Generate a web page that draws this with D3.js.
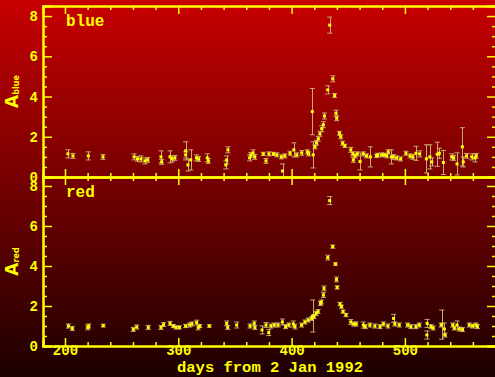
<!DOCTYPE html>
<html>
<head>
<meta charset="utf-8">
<script src="https://cdn.jsdelivr.net/npm/d3@7"></script>
<style>
  body { margin: 0; background: #000; }
  svg { display: block; }
</style>
</head>
<body>
<div id="chart"></div>
<script>
// blue panel: day, amplification, error
const blueDays = [202.6, 207, 220.6, 233.5, 261, 264, 267, 270.6, 273, 284.7, 285.3, 292.7, 294.6, 297,
  306.5, 306.5, 308.5, 311, 316, 318, 325.6, 326.5, 342, 342.7, 343.8, 363, 364, 366, 367.5, 375, 377.4,
  380, 384, 387, 391, 392, 394, 398.6, 402, 404.5, 408.9, 413.9, 415, 418.3, 419, 420.6, 422, 423.6, 425,
  426.6, 428, 429, 431.9, 433.6, 436.3, 438, 439.2, 439.8, 442.2, 443.4, 445, 447, 452.2, 454, 454.5, 456,
  458, 460.4, 463.3, 466.2, 469.5, 475, 476, 479.5, 482, 484, 485.3, 488, 489.7, 492.7, 496.2, 500.9, 504.5,
  507, 509.8, 513, 519, 522, 523.6, 528.6, 530.4, 534, 541.3, 543, 546, 550.7, 551.5, 554.4, 559, 561.8, 563];
const blueA = [1.15, 1.05, 1.05, 1.0, 1.0, 0.9, 0.9, 0.8, 0.85, 1.0, 0.75, 1.0, 0.9, 0.95,
  1.3, 1.1, 0.6, 0.85, 0.95, 0.9, 0.95, 0.8, 0.6, 0.85, 1.35, 0.95, 1.1, 1.2, 1.0, 1.15, 0.8,
  1.15, 1.15, 1.1, 1.0, 0.3, 1.05, 1.18, 1.35, 1.1, 1.2, 1.25, 1.15, 3.25, 1.1, 1.5, 1.7, 1.9, 2.15,
  2.4, 2.6, 3.03, 4.33, 7.55, 4.88, 4.05, 3.17, 2.92, 2.17, 2.0, 1.68, 1.55, 1.35, 1.15, 0.85, 1.05,
  1.15, 0.77, 1.15, 1.05, 1.0, 1.05, 1.1, 1.1, 1.1, 1.05, 1.25, 1.0, 1.0, 0.95, 0.9, 1.18, 1.05,
  1.0, 1.18, 1.15, 0.9, 1.0, 0.75, 1.13, 1.18, 0.72, 1.0, 0.95, 0.65, 1.5, 0.75, 1.05, 1.0, 0.95, 1.05];
const blueErr = [0.2, 0.12, 0.2, 0.12, 0.15, 0.12, 0.15, 0.15, 0.12, 0.3, 0.12, 0.3, 0.15, 0.12,
  0.45, 0.15, 0.3, 0.5, 0.15, 0.12, 0.2, 0.12, 0.2, 0.2, 0.15, 0.15, 0.12, 0.15, 0.12, 0.08, 0.12,
  0.1, 0.08, 0.1, 0.1, 0.35, 0.1, 0.1, 0.35, 0.1, 0.12, 0.1, 0.1, 1.15, 0.65, 0.1, 0.12, 0.12, 0.12,
  0.15, 0.15, 0.15, 0.2, 0.4, 0.15, 0.1, 0.15, 0.12, 0.1, 0.1, 0.1, 0.08, 0.12, 0.1, 0.12, 0.1,
  0.1, 0.42, 0.1, 0.1, 0.5, 0.08, 0.08, 0.1, 0.08, 0.1, 0.1, 0.35, 0.12, 0.1, 0.1, 0.1, 0.1,
  0.12, 0.35, 0.15, 0.7, 0.6, 0.2, 0.6, 0.25, 0.6, 0.15, 0.12, 0.55, 0.95, 0.25, 0.12, 0.15, 0.2, 0.12];

// red panel
const redDays = [203, 206.5, 220, 221, 233.8, 260.3, 263.3, 273.5, 284.7, 287, 292.7, 295.6, 298, 301,
  306.5, 310, 312, 316.2, 317.6, 319, 327.4, 342.7, 343.6, 351.5, 363.3, 367, 367.6, 373.9, 377.4, 379.8,
  381.7, 384.7, 388, 391.9, 394.7, 397.6, 401.5, 403, 408.8, 411.8, 414.7, 417.7, 418.6, 419.8, 421.6,
  423.4, 425.5, 426.3, 428.1, 428.6, 431.9, 433.6, 436.3, 438.7, 439.6, 440.2, 442.7, 444, 445.4, 448,
  452.2, 454.7, 457, 463.3, 465, 469.1, 473.5, 478, 481, 485, 490, 491.1, 495, 502.4, 505.3, 509.7,
  512.7, 519.6, 519.4, 523, 525, 532, 532.5, 534.8, 535.4, 542.2, 543.6, 546, 548, 550.9, 556.8, 559.7,
  562.6, 564];
const redA = [1.0, 0.88, 0.93, 1.0, 1.02, 0.83, 0.95, 0.93, 0.93, 1.07, 1.13, 1.0, 0.93, 0.93,
  1.0, 1.05, 1.1, 1.17, 0.93, 1.0, 1.0, 1.13, 0.93, 1.05, 1.0, 1.13, 0.93, 0.8, 1.05, 0.67,
  1.0, 1.05, 1.05, 1.2, 0.97, 1.05, 1.1, 0.97, 1.05, 1.2, 1.3, 1.38, 1.5, 1.47, 1.63,
  1.72, 2.13, 2.2, 2.55, 2.88, 4.42, 7.27, 4.97, 4.1, 3.33, 2.93, 2.1, 1.97, 1.72, 1.55,
  1.2, 1.1, 1.1, 1.05, 0.97, 1.05, 1.0, 0.97, 1.1, 1.0, 1.38, 1.1, 1.05, 1.05, 0.97, 0.97,
  1.05, 1.13, 0.55, 0.97, 0.9, 1.05, 1.07, 0.85, 0.55, 1.05, 0.9, 1.05, 0.85, 0.82, 1.05, 1.0,
  1.05, 0.97];
const redErr = [0.1, 0.1, 0.12, 0.1, 0.07, 0.1, 0.1, 0.1, 0.1, 0.1, 0.1, 0.08, 0.08, 0.08,
  0.08, 0.1, 0.1, 0.12, 0.12, 0.08, 0.06, 0.12, 0.1, 0.15, 0.1, 0.12, 0.1, 0.2, 0.12, 0.15,
  0.1, 0.1, 0.1, 0.15, 0.1, 0.1, 0.15, 0.12, 0.1, 0.1, 0.1, 0.1, 0.8, 0.1, 0.1,
  0.1, 0.1, 0.1, 0.12, 0.12, 0.12, 0.2, 0.08, 0.06, 0.12, 0.08, 0.08, 0.08, 0.08, 0.08,
  0.12, 0.1, 0.1, 0.15, 0.1, 0.1, 0.1, 0.1, 0.1, 0.1, 0.2, 0.1, 0.1, 0.1, 0.1, 0.1,
  0.1, 0.2, 0.2, 0.1, 0.1, 0.1, 0.73, 0.3, 0.1, 0.1, 0.1, 0.2, 0.1, 0.1, 0.1, 0.1,
  0.1, 0.1];

const xMajor = [200, 300, 400, 500];
const yMajor = [0, 2, 4, 6, 8];

const width = 495, height = 377;
const left = 43, right = 496;
const yellow = '#ffff00', tan = '#c8aa6e';
const mono = '"Liberation Mono", monospace';

const svg = d3.select('#chart').append('svg')
  .attr('width', width).attr('height', height);

const grad = svg.append('defs').append('linearGradient')
  .attr('id', 'bg').attr('x1', 0).attr('y1', 0).attr('x2', 0).attr('y2', 1);
grad.append('stop').attr('offset', '0%').attr('stop-color', '#c80000');
grad.append('stop').attr('offset', '100%').attr('stop-color', '#1c0000');
svg.append('rect').attr('width', width).attr('height', height).attr('fill', 'url(#bg)');

const x = d3.scaleLinear().domain([180.6, 580.4]).range([left, right]);
const xMinor = d3.range(200, 580, 20).filter(d => d % 100 !== 0);

const panels = [
  {name: 'blue', days: blueDays, vals: blueA, errs: blueErr, top: 6, bottom: 177, ymax: 8.5},
  {name: 'red', days: redDays, vals: redA, errs: redErr, top: 177, bottom: 346, ymax: 8.45}
];

panels.forEach((p, i) => {
  const y = d3.scaleLinear().domain([0, p.ymax]).range([p.bottom, p.top]);
  const yMinor = d3.range(0.5, p.ymax, 0.5).filter(d => d % 2 !== 0);
  const g = svg.append('g');

  svg.select('defs').append('clipPath').attr('id', 'clip' + i)
    .append('rect').attr('x', left).attr('y', p.top)
    .attr('width', right - left).attr('height', p.bottom - p.top);

  const data = p.days.map((d, k) => ({day: d, a: p.vals[k], e: p.errs[k]}));
  const marks = g.append('g').attr('clip-path', `url(#clip${i})`);

  const bars = marks.selectAll('.err').data(data).enter().append('g').attr('class', 'err')
    .attr('stroke', tan).attr('stroke-width', 1).attr('fill', 'none');
  bars.append('line')
    .attr('x1', d => Math.round(x(d.day)) + 0.5).attr('x2', d => Math.round(x(d.day)) + 0.5)
    .attr('y1', d => y(d.a - d.e)).attr('y2', d => y(d.a + d.e));
  bars.append('line')
    .attr('x1', d => x(d.day) - 2.5).attr('x2', d => x(d.day) + 2.5)
    .attr('y1', d => y(d.a + d.e)).attr('y2', d => y(d.a + d.e));
  bars.append('line')
    .attr('x1', d => x(d.day) - 2.5).attr('x2', d => x(d.day) + 2.5)
    .attr('y1', d => y(d.a - d.e)).attr('y2', d => y(d.a - d.e));

  marks.selectAll('.dot').data(data).enter().append('rect').attr('class', 'dot')
    .attr('x', d => x(d.day) - 1.5).attr('y', d => y(d.a) - 1.5)
    .attr('width', 3).attr('height', 3)
    .attr('fill', yellow);

  // axes, ticks pointing inwards on all four sides
  const axes = [
    [d3.axisLeft(y).tickValues(yMajor).tickSize(-9).tickPadding(5), `translate(${left},0)`],
    [d3.axisLeft(y).tickValues(yMinor).tickSize(-4).tickFormat(''), `translate(${left},0)`],
    [d3.axisRight(y).tickValues(yMajor).tickSize(-9).tickFormat(''), `translate(${right},0)`],
    [d3.axisRight(y).tickValues(yMinor).tickSize(-4).tickFormat(''), `translate(${right},0)`],
    [d3.axisTop(x).tickValues(xMajor).tickSize(-8).tickFormat(''), `translate(0,${p.top})`],
    [d3.axisTop(x).tickValues(xMinor).tickSize(-4).tickFormat(''), `translate(0,${p.top})`],
    [d3.axisBottom(x).tickValues(xMajor).tickSize(-8).tickPadding(-1)
      .tickFormat(i === 1 ? d3.format('d') : ''), `translate(0,${p.bottom})`],
    [d3.axisBottom(x).tickValues(xMinor).tickSize(-4).tickFormat(''), `translate(0,${p.bottom})`]
  ];
  axes.forEach(([ax, tr]) => {
    const a = g.append('g').attr('transform', tr).call(ax);
    a.select('.domain').attr('stroke', yellow).attr('stroke-width', 2);
    a.selectAll('.tick line').attr('stroke', yellow).attr('stroke-width', 1.5);
    a.selectAll('.tick text').attr('fill', yellow)
      .style('font-family', mono).style('font-weight', 'bold').style('font-size', '14px');
  });

  g.append('text').attr('x', 66).attr('y', p.top + 20)
    .attr('fill', yellow).style('font-family', mono).style('font-weight', 'bold')
    .style('font-size', '16px').text(p.name);

  const lab = g.append('text')
    .attr('transform', `translate(18,${(p.top + p.bottom) / 2}) rotate(-90)`)
    .attr('text-anchor', 'middle').attr('fill', yellow)
    .style('font-family', '"DejaVu Sans", sans-serif').style('font-weight', 'bold');
  lab.append('tspan').style('font-size', '17px').text('A');
  lab.append('tspan').style('font-size', '8px').attr('dy', 1).text(p.name);
});

svg.append('text').attr('x', 270).attr('y', 372)
  .attr('text-anchor', 'middle').attr('fill', yellow)
  .style('font-family', mono).style('font-weight', 'bold').style('font-size', '15.5px')
  .text('days from 2 Jan 1992');
</script>
</body>
</html>
